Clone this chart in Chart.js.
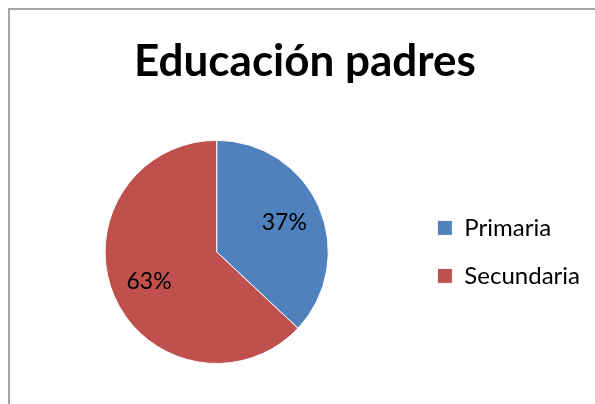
<!DOCTYPE html>
<html>
<head>
<meta charset="utf-8">
<script src="https://cdn.jsdelivr.net/npm/chart.js@4.4.0/dist/chart.umd.min.js"></script>
<style>
  html, body { margin: 0; padding: 0; background: #fff; }
  #wrap { position: relative; width: 595px; height: 404px; overflow: hidden; }
  #frame { position: absolute; left: 8px; top: 8px; width: 700px; height: 500px;
           border-left: 2px solid #a5a5a5; border-top: 2px solid #a5a5a5; }
  canvas { position: absolute; left: 0; top: 0; }
</style>
</head>
<body>
<div id="wrap">
  <div id="frame"></div>
  <canvas id="myChart" width="595" height="404"></canvas>
</div>
<script>
// datos del gráfico
var categorias = ['Primaria', 'Secundaria'];
var valores = [37, 63];   // porcentajes
var colores = ['#4F81BD', '#C0504D'];

// etiquetas de porcentaje dentro de cada sector
var etiquetasPct = {
    id: 'etiquetasPct',
    afterDatasetsDraw: function(chart) {
        var ctx = chart.ctx;
        var meta = chart.getDatasetMeta(0);
        var total = valores.reduce(function(a, b) { return a + b; }, 0);
        ctx.save();
        ctx.font = '23px Lato';
        ctx.fillStyle = '#000';
        ctx.textAlign = 'center';
        ctx.textBaseline = 'middle';
        meta.data.forEach(function(arc, i) {
            var mid = (arc.startAngle + arc.endAngle) / 2;
            var r = arc.outerRadius * 0.66;
            var x = arc.x + Math.cos(mid) * r;
            var y = arc.y + Math.sin(mid) * r;
            ctx.fillText(Math.round(valores[i] / total * 100) + '%', x, y);
        });
        ctx.restore();
    }
};

var ctx = document.getElementById('myChart').getContext('2d');
var myChart = new Chart(ctx, {
    type: 'pie',
    data: {
        labels: categorias,
        datasets: [{
            data: valores,
            backgroundColor: colores,
            borderColor: '#ffffff',
            borderWidth: 1,
            hoverBorderWidth: 1,
            hoverOffset: 0
        }]
    },
    options: {
        responsive: false,
        animation: false,
        layout: { padding: { left: 20, right: 5, top: 0, bottom: 40 } },
        plugins: {
            title: {
                display: true,
                text: 'Educación padres',
                color: '#000',
                font: { family: 'Lato', size: 44, weight: 'bold' },
                padding: { top: 35, bottom: 52 }
            },
            legend: {
                position: 'right',
                fullSize: false,
                maxWidth: 177,
                labels: {
                    color: '#000',
                    font: { family: 'Lato', size: 24 },
                    boxWidth: 15,
                    boxHeight: 15,
                    padding: 24
                }
            },
            tooltip: { enabled: false }
        }
    },
    plugins: [etiquetasPct]
});
</script>
</body>
</html>
